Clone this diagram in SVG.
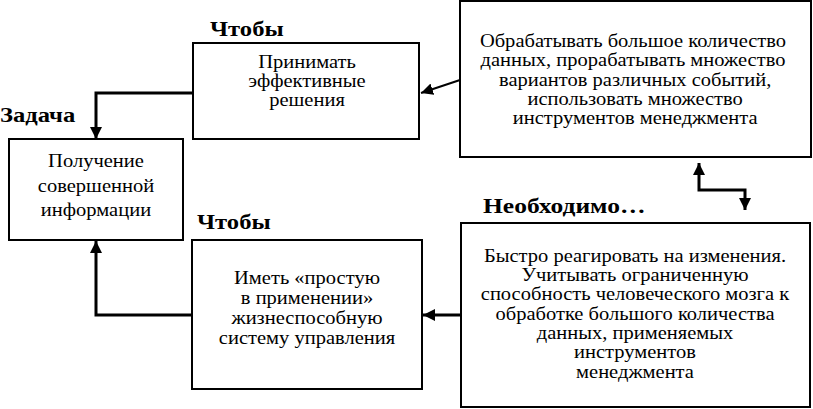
<svg xmlns="http://www.w3.org/2000/svg" width="813" height="409" viewBox="0 0 813 409">
<defs>
<style>
.box{fill:#fff;stroke:#000;stroke-width:2}
.t{font-family:'Liberation Serif','Times New Roman',serif;font-size:19px;fill:#000;text-anchor:middle}
.lbl{font-family:'Liberation Serif','Times New Roman',serif;font-size:22px;font-weight:bold;fill:#000}
.c{fill:none;stroke:#000;stroke-width:3}
.c2{fill:none;stroke:#000;stroke-width:2}
</style>
<marker id="ah" viewBox="0 0 10 10" refX="10" refY="5" markerWidth="4" markerHeight="4" orient="auto-start-reverse" markerUnits="strokeWidth">
<path d="M0,0 L10,5 L0,10 z" fill="#000"/>
</marker>
<marker id="ah2" viewBox="0 0 10 10" refX="10" refY="5" markerWidth="6" markerHeight="6" orient="auto" markerUnits="strokeWidth">
<path d="M0,0 L10,5 L0,10 z" fill="#000"/>
</marker>
</defs>
<rect width="813" height="409" fill="#fff"/>
<g id="labels">
<text class="lbl" transform="translate(210,36) scale(1.12,1)">Чтобы</text>
<text class="lbl" transform="translate(0,122) scale(1.12,1)">Задача</text>
<text class="lbl" transform="translate(197,229) scale(1.12,1)">Чтобы</text>
<text class="lbl" transform="translate(483,213) scale(1.16,1)">Необходимо…</text>
</g>
<g id="n1">
<rect class="box" x="193" y="43" width="226" height="96"/>
<g transform="translate(307,0) scale(1.08,1)">
<text class="t" x="0" y="68">Принимать</text>
<text class="t" x="0" y="87">эффективные</text>
<text class="t" x="0" y="106">решения</text>
</g>
</g>
<g id="n2">
<rect class="box" x="9" y="139" width="174" height="101"/>
<g transform="translate(96,0) scale(1.08,1)">
<text class="t" x="0" y="167">Получение</text>
<text class="t" x="0" y="192">совершенной</text>
<text class="t" x="0" y="216">информации</text>
</g>
</g>
<g id="n3">
<rect class="box" x="192" y="240" width="230" height="149"/>
<g transform="translate(307,0) scale(1.08,1)">
<text class="t" x="0" y="284">Иметь «простую</text>
<text class="t" x="0" y="304">в применении»</text>
<text class="t" x="0" y="324">жизнеспособную</text>
<text class="t" x="0" y="344">систему управления</text>
</g>
</g>
<g id="n4">
<rect class="box" x="460" y="1" width="351" height="156"/>
<g transform="translate(633,0) scale(1.08,1)">
<text class="t" x="0" y="47">Обрабатывать большое количество</text>
<text class="t" x="0" y="66">данных, прорабатывать множество</text>
<text class="t" x="2" y="86">вариантов различных событий,</text>
<text class="t" x="2" y="105">использовать множество</text>
<text class="t" x="2" y="124">инструментов менеджмента</text>
</g>
</g>
<g id="n5">
<rect class="box" x="461" y="223" width="349" height="184"/>
<g transform="translate(635,0) scale(1.08,1)">
<text class="t" x="0" y="262">Быстро реагировать на изменения.</text>
<text class="t" x="0" y="281">Учитывать ограниченную</text>
<text class="t" x="0" y="300">способность человеческого мозга к</text>
<text class="t" x="0" y="320">обработке большого количества</text>
<text class="t" x="0" y="339">данных, применяемых</text>
<text class="t" x="0" y="358">инструментов</text>
<text class="t" x="0" y="378">менеджмента</text>
</g>
</g>
<g id="connectors">
<path class="c2" d="M460,80 L421,93" marker-end="url(#ah2)"/>
<path class="c" d="M193,93 L96,93 L96,139" marker-end="url(#ah)"/>
<path class="c" d="M192,315 L96,315 L96,241" marker-end="url(#ah)"/>
<path class="c" d="M461,315 L423,315" marker-end="url(#ah)"/>
<path class="c" d="M699,163 L699,190 L745,190 L745,210" marker-start="url(#ah)" marker-end="url(#ah)"/>
</g>
</svg>
